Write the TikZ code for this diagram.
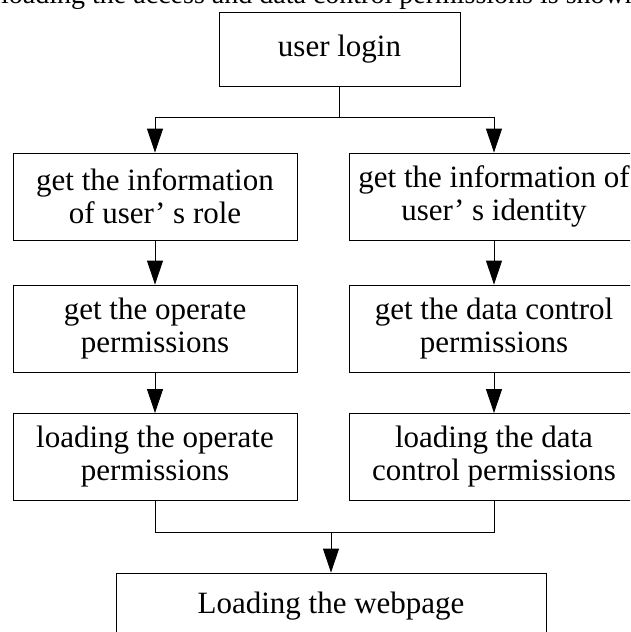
\documentclass[tikz,border=0pt]{standalone}
\usepackage{fontspec}
\setmainfont{Liberation Serif}
\usetikzlibrary{arrows.meta}
\tikzset{
  box/.style={draw=black, line width=0.9pt, inner sep=0pt, align=center,
    font=\fontsize{31}{33}\selectfont, minimum height=87pt},
  lbox/.style={box, minimum width=284pt},
  rbox/.style={box, minimum width=290pt},
  conn/.style={draw=black, line width=0.9pt},
  arr/.style={conn, -{Triangle[length=24pt,width=16pt]}}
}
\begin{document}
\begin{tikzpicture}[x=1pt,y=-1pt]
\useasboundingbox (0,0) rectangle (630,632);
\fill[white] (0,0) rectangle (630,632);
\clip (0,0) rectangle (630,632);
\node[anchor=base west, inner sep=0pt, font=\fontsize{28}{30}\selectfont] (cap) at (1,3)
  {loading the access and data control permissions is shown in};
\node[box, minimum width=241pt, minimum height=74pt] (login) at (339.5,49) {user login};
\node[lbox] (L1) at (155,196.5) {get the information\\of user’ s role};
\node[rbox] (R1) at (494,196.5) {get the information of\\user’ s identity};
\node[lbox] (L2) at (155,328.5) {get the operate\\permissions};
\node[rbox] (R2) at (494,328.5) {get the data control\\permissions};
\node[lbox] (L3) at (155,457) {loading the operate\\permissions};
\node[rbox] (R3) at (494,457) {loading the data\\control permissions};
\node[box, minimum width=430pt, minimum height=66pt] (B) at (331,606) {Loading the webpage};
\coordinate (s1) at (339.5,117);
\coordinate (m1) at (331,532);
\draw[conn] (login.south) -- (login.south |- s1);
\draw[arr] (login.south |- s1) -| (L1.north);
\draw[arr] (login.south |- s1) -| (R1.north);
\draw[arr] (L1.south) -- (L2.north);
\draw[arr] (L2.south) -- (L3.north);
\draw[arr] (R1.south) -- (R2.north);
\draw[arr] (R2.south) -- (R3.north);
\draw[conn] (L3.south) -- (L3.south |- m1) -- (R3.south |- m1) -- (R3.south);
\draw[arr] (B.north |- m1) -- (B.north);
\end{tikzpicture}
\end{document}
